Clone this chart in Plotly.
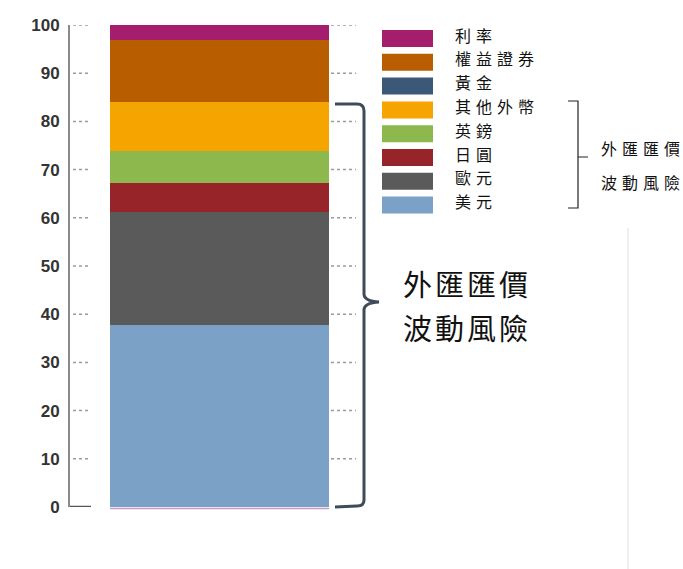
import plotly.graph_objects as go

# ---- data ----
categories = ["美元", "歐元", "日圓", "英鎊", "其他外幣", "黃金", "權益證券", "利率"]
values = [37.8, 23.4, 6.0, 6.7, 10.1, 0.0, 12.9, 3.1]
colors = ["#7ba1c7", "#5a5a5a", "#972428", "#8cb84e", "#f6a500", "#3b5877", "#b85e00", "#a51e6e"]
y_ticks = [0, 10, 20, 30, 40, 50, 60, 70, 80, 90, 100]
risk_label = ["外匯匯價", "波動風險"]

# ---- layout geometry (pixels) ----
W, H = 683, 569
L, R, T, B = 70, 0, 25, 62
PW, PH = W - L - R, H - T - B
bar_left, bar_right = 110, 329
unit = bar_right - bar_left
x0 = (bar_left + bar_right) / 2
xr = [-(x0 - L) / unit, (W - R - x0) / unit]

def fx(px):
    return (px - L) / PW

def fy(py):
    return (H - B - py) / PH

def spaced(txt, sp):
    # letter spacing on all but the last character (no trailing gap)
    return f'<span style="letter-spacing:{sp}px">{txt[:-1]}</span>{txt[-1]}'

fig = go.Figure()
for cat, val, col in zip(categories, values, colors):
    fig.add_trace(go.Bar(x=[0], y=[val], name=cat, width=1,
                         marker=dict(color=col, line=dict(width=0)),
                         showlegend=False))

shapes = []
annotations = []

# short dotted tick marks beside the axis and the bar
for v in y_ticks:
    if v == 0:
        shapes.append(dict(type="line", xref="paper", yref="y", x0=fx(70), x1=fx(91), y0=0, y1=0,
                           line=dict(color="#555555", width=2.5)))
        continue
    for a, b in [(73, 90), (331, 356)]:
        shapes.append(dict(type="line", xref="paper", yref="y", x0=fx(a), x1=fx(b), y0=v, y1=v,
                           line=dict(color="#9a9a9a", width=1.5, dash="dot")))

# thin pink line under bar
shapes.append(dict(type="line", xref="paper", yref="paper", x0=fx(110), x1=fx(329),
                   y0=fy(508.5), y1=fy(508.5), line=dict(color="#c79ac4", width=1.5)))

# custom legend
legend_order = list(range(len(categories)))[::-1]
for i, k in enumerate(legend_order):
    cy = 38.5 + 23.8 * i
    shapes.append(dict(type="rect", xref="paper", yref="paper",
                       x0=fx(382), x1=fx(433), y0=fy(cy - 8.5), y1=fy(cy + 8.5),
                       fillcolor=colors[k], line=dict(width=0)))
    annotations.append(dict(xref="paper", yref="paper", x=fx(453), y=fy(cy - 4),
                            text=spaced(categories[k], 5), showarrow=False,
                            xanchor="left", yanchor="middle",
                            font=dict(family="Noto Sans CJK TC", size=16, color="#111111")))

# big curly brace
bx = 364
brace = (f"M {fx(335)},{fy(104)} L {fx(357)},{fy(104)} "
         f"Q {fx(bx)},{fy(104)} {fx(bx)},{fy(111)} "
         f"L {fx(bx)},{fy(294)} Q {fx(bx)},{fy(301)} {fx(379)},{fy(302)} "
         f"Q {fx(bx)},{fy(303)} {fx(bx)},{fy(310)} "
         f"L {fx(bx)},{fy(500)} Q {fx(bx)},{fy(506)} {fx(357)},{fy(506)} L {fx(335)},{fy(507)}")
shapes.append(dict(type="path", xref="paper", yref="paper", path=brace,
                   line=dict(color="#3f4b5b", width=3)))

# small bracket near legend
small = (f"M {fx(568)},{fy(101)} L {fx(578)},{fy(101)} L {fx(578)},{fy(208)} L {fx(568)},{fy(208)} "
         f"M {fx(578)},{fy(157)} L {fx(588)},{fy(157)}")
shapes.append(dict(type="path", xref="paper", yref="paper", path=small,
                   line=dict(color="#222222", width=1.2)))

# light vertical line
shapes.append(dict(type="line", xref="paper", yref="paper", x0=fx(628), x1=fx(628),
                   y0=fy(228), y1=fy(569), line=dict(color="#dddddd", width=1)))

# labels
for j, py in enumerate([148, 182]):
    annotations.append(dict(xref="paper", yref="paper", x=fx(599), y=fy(py),
                            text=spaced(risk_label[j], 5),
                            showarrow=False, xanchor="left", yanchor="middle",
                            font=dict(family="Noto Sans CJK TC", size=16, color="#111111")))
for j, py in enumerate([283, 327]):
    annotations.append(dict(xref="paper", yref="paper", x=fx(401), y=fy(py),
                            text=spaced(risk_label[j], 3),
                            showarrow=False, xanchor="left", yanchor="middle",
                            font=dict(family="Noto Sans CJK TC", size=29, color="#111111")))

fig.update_layout(
    width=W, height=H,
    margin=dict(l=L, r=R, t=T, b=B, pad=0),
    paper_bgcolor="white", plot_bgcolor="white",
    barmode="stack", bargap=0,
    showlegend=False,
    xaxis=dict(range=xr, visible=False, fixedrange=True),
    yaxis=dict(range=[0, 100], tickvals=y_ticks, showgrid=False, zeroline=False,
               showline=True, linecolor="#8a8a8a", linewidth=2, ticks="",
               ticklabelstandoff=5,
               tickfont=dict(family="Liberation Sans", size=17, color="#333333", weight="bold")),
    shapes=shapes,
    annotations=annotations,
)

fig.write_html("out.html")
